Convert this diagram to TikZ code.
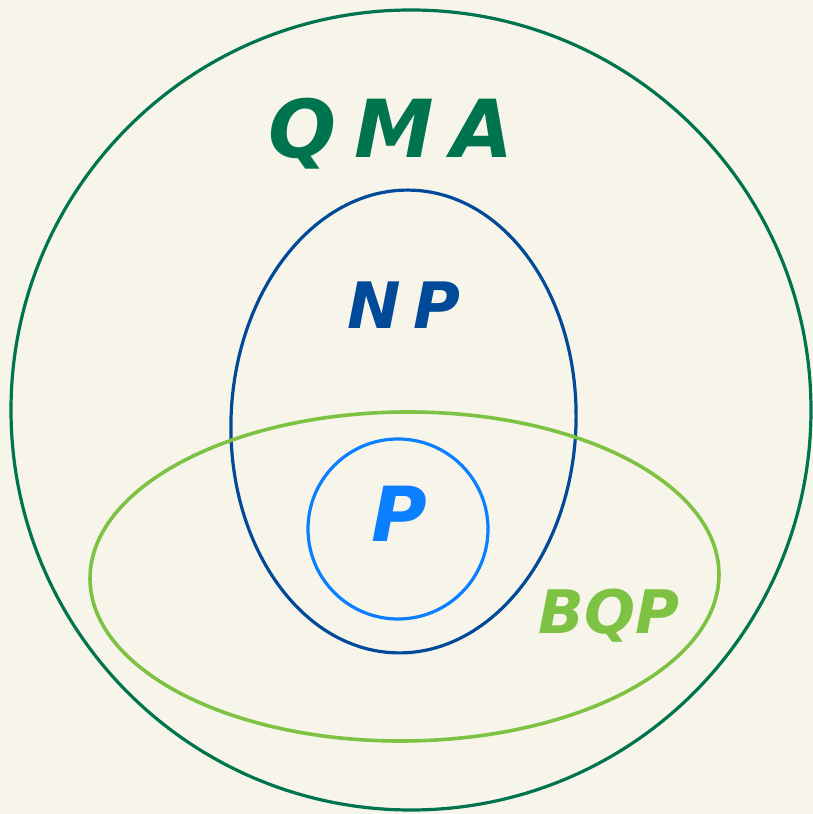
\documentclass[tikz,border=0pt]{standalone}
\usepackage{fontspec}
\usetikzlibrary{shapes.geometric}
\setmainfont{DejaVu Sans}
\definecolor{bg}{HTML}{F7F5EA}
\definecolor{qmac}{HTML}{00744F}
\definecolor{npc}{HTML}{004A99}
\definecolor{pc}{HTML}{0A7FFF}
\definecolor{bqpc}{HTML}{7DC242}
\tikzset{
  setline/.style={line width=3.2pt},
  lbl/.style={inner sep=0pt, anchor=base},
}
\begin{document}
\begin{tikzpicture}[x=1pt,y=1pt]
\fill[bg] (0,0) rectangle (813,814);
\useasboundingbox (0,0) rectangle (813,814);
% sets
\node[setline, draw=qmac, circle, minimum size=800pt, inner sep=0pt] (qma) at (411,404) {};
\node[setline, draw=npc, ellipse, minimum width=345pt, minimum height=463pt, inner sep=0pt, rotate=-2.3] (np) at (403.5,392.5) {};
\node[line width=3.6pt, draw=bqpc, ellipse, minimum width=629pt, minimum height=329pt, inner sep=0pt, rotate=0.5] (bqp) at (404.5,237.5) {};
\node[setline, draw=pc, circle, minimum size=180pt, inner sep=0pt] (p) at (398,285) {};
% labels
\node[lbl, text=qmac, font=\fontsize{80}{80}\selectfont\bfseries\itshape] (lqma) at (391,656) {Q\hspace{18pt}M\hspace{18pt}A};
\node[lbl, text=npc, font=\fontsize{64}{64}\selectfont\bfseries\itshape] (lnp) at (404,485) {N\hspace{12pt}P};
\node[lbl, text=pc, font=\fontsize{76}{76}\selectfont\bfseries\itshape] (lp) at (399,272) {P};
\node[lbl, text=bqpc, font=\fontsize{60}{60}\selectfont\bfseries\itshape] (lbqp) at (609,180) {BQP};
\end{tikzpicture}
\end{document}
